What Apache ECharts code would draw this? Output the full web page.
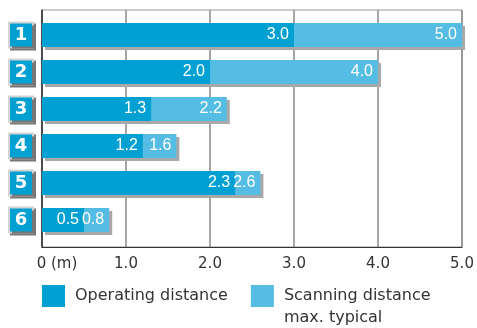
<!DOCTYPE html>
<html>
<head>
<meta charset="utf-8">
<script src="https://cdn.jsdelivr.net/npm/echarts@6/dist/echarts.min.js"></script>
<style>
html, body { margin: 0; padding: 0; background: #fff; }
#chart { width: 477px; height: 328px; }
</style>
</head>
<body>
<div id="chart"></div>
<script>
// data
var categories = ['1', '2', '3', '4', '5', '6'];
var operating = [3.0, 2.0, 1.3, 1.2, 2.3, 0.5];
var scanning = [5.0, 4.0, 2.2, 1.6, 2.6, 0.8];
var tickLabels = ['0 (m)', '1.0', '2.0', '3.0', '4.0', '5.0'];

var darkBlue = '#00a0d3';
var lightBlue = '#55bce3';
var font = 'DejaVu Sans';
var barFont = 'Liberation Sans';

var myChart = echarts.init(document.getElementById('chart'));
var option = {
    animation: false,
    textStyle: { fontFamily: font },
    legend: {
        left: 42,
        top: 263,
        padding: 0,
        icon: 'rect',
        itemWidth: 23,
        itemHeight: 22,
        itemGap: 23,
        selectedMode: false,
        textStyle: { fontSize: 16, color: '#333', lineHeight: 22, fontFamily: font, padding: [0, 0, 0, 5] },
        // blank first line keeps "Scanning distance" level with its square
        formatter: function (name) {
            return name === 'Scanning distance' ? '\n' + name + '\nmax. typical' : name;
        },
        data: ['Operating distance', 'Scanning distance']
    },
    grid: [
        // frame + value axis
        { left: 42, right: 15, top: 10, bottom: 81, show: true, borderColor: '#999', borderWidth: 1 },
        // bars
        { left: 42, right: 15, top: 16.5, bottom: 89.5 }
    ],
    xAxis: [{
        gridIndex: 0,
        type: 'value',
        min: 0,
        max: 5,
        interval: 1,
        axisLine: { show: true, lineStyle: { color: '#333', width: 1 } },
        axisTick: { show: false },
        splitLine: { show: true, lineStyle: { color: '#888', width: 1.5 } },
        axisLabel: {
            margin: 10,
            fontSize: 15,
            color: '#333',
            fontFamily: font,
            formatter: function (v) {
                return v === 0 ? '{z|' + tickLabels[0] + '}' : tickLabels[v];
            },
            rich: {
                z: { fontSize: 15, color: '#333', fontFamily: font, padding: [0, 0, 0, 30] }
            }
        }
    }, {
        gridIndex: 1,
        type: 'value',
        min: 0,
        max: 5,
        show: false
    }],
    yAxis: [{
        gridIndex: 0,
        type: 'value',
        axisLine: { show: true, lineStyle: { color: '#333', width: 1.5 } },
        axisTick: { show: false },
        axisLabel: { show: false },
        splitLine: { show: false }
    }, {
        gridIndex: 1,
        type: 'category',
        inverse: true,
        data: categories,
        axisLine: { show: false },
        axisTick: { show: false },
        axisLabel: {
            margin: 10,
            formatter: function (v) { return '{b|' + v + '}'; },
            rich: {
                b: {
                    width: 22,
                    height: 23,
                    lineHeight: 23,
                    align: 'center',
                    color: '#fff',
                    fontSize: 18,
                    fontWeight: 'bold',
                    fontFamily: font,
                    backgroundColor: darkBlue,
                    borderColor: '#d4d4d4',
                    borderWidth: 2,
                    shadowColor: '#777',
                    shadowOffsetX: 2,
                    shadowOffsetY: 2
                }
            }
        }
    }],
    series: [{
        name: 'Scanning distance',
        type: 'bar',
        xAxisIndex: 1,
        yAxisIndex: 1,
        barWidth: 24,
        barGap: '-100%',
        data: scanning,
        itemStyle: {
            color: lightBlue,
            shadowColor: '#a8a8a8',
            shadowOffsetX: 3,
            shadowOffsetY: 3,
            shadowBlur: 0
        },
        label: {
            show: true,
            position: 'insideRight',
            distance: 5,
            color: '#fff',
            fontSize: 16,
            fontFamily: barFont,
            formatter: function (p) { return p.value.toFixed(1); }
        }
    }, {
        name: 'Operating distance',
        type: 'bar',
        xAxisIndex: 1,
        yAxisIndex: 1,
        barWidth: 24,
        barGap: '-100%',
        data: operating,
        itemStyle: { color: darkBlue },
        label: {
            show: true,
            position: 'insideRight',
            distance: 5,
            color: '#fff',
            fontSize: 16,
            fontFamily: barFont,
            formatter: function (p) { return p.value.toFixed(1); }
        }
    }]
};
myChart.setOption(option);
</script>
</body>
</html>
